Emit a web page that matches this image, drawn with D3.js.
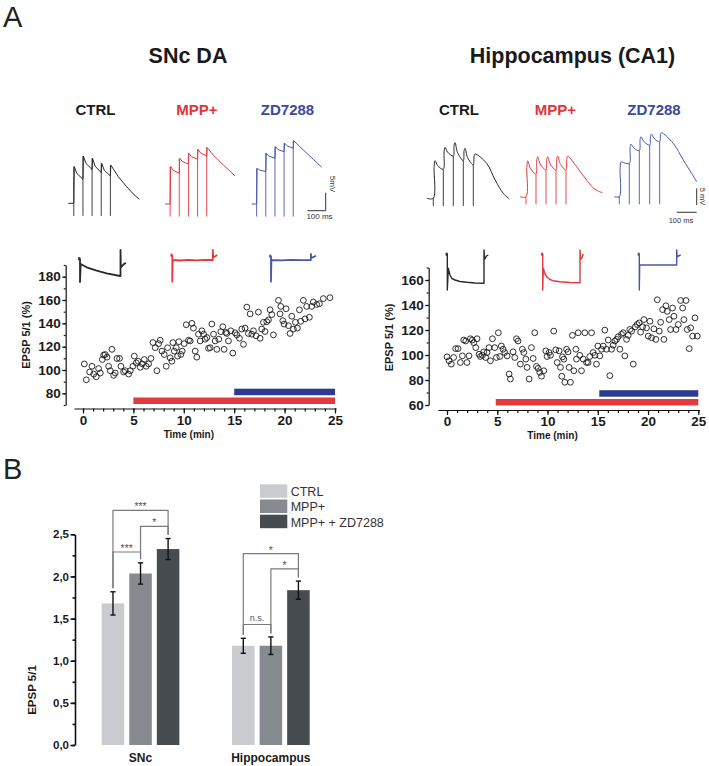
<!DOCTYPE html>
<html><head><meta charset="utf-8">
<script src="https://cdn.jsdelivr.net/npm/d3@7/dist/d3.min.js"></script>
<style>
body{margin:0;background:#fff}
svg{display:block}
text{font-family:"Liberation Sans",Arial,Helvetica,sans-serif}
</style>
</head><body>
<svg id="chart" width="709" height="766"></svg>
<script>
// ---------------- DATA ----------------
const conditions = ["CTRL", "MPP+", "ZD7288"];
const conditionColors = ["#1c1c1c", "#e0353a", "#3b4a9e"];
const traceColors = ["#2a2a2a", "#e4393e", "#4a58aa"];
const timeTicks = [0, 5, 10, 15, 20, 25];
const sncYTicks = [80, 100, 120, 140, 160, 180];
const hipYTicks = [60, 80, 100, 120, 140, 160];
const drugBars = [
  {label: "MPP+", start: 5, end: 25, color: "#e23b3f"},
  {label: "ZD7288", start: 15, end: 25, color: "#2d3a8f"}
];
const hipDrugBars = [
  {label: "MPP+", start: 4.85, end: 25, color: "#e23b3f"},
  {label: "ZD7288", start: 15.15, end: 25, color: "#2d3a8f"}
];

// EPSP 5/1 (%) vs time (min), SNc DA
const sncPoints = [[0.13,105.2],[0.33,91.6],[0.66,98.3],[0.89,103.2],[1.06,96.5],[1.32,94.2],[1.55,101.2],[1.72,97.4],[1.92,109.0],[2.05,112.8],[2.21,113.3],[2.38,111.0],[2.54,103.2],[2.71,99.4],[2.87,117.7],[3.04,95.4],[3.20,97.4],[3.37,109.9],[3.63,109.9],[3.76,103.2],[4.03,98.3],[4.19,99.4],[4.52,96.5],[4.69,99.4],[4.95,103.2],[5.09,111.9],[5.28,106.1],[5.48,107.5],[5.68,102.3],[5.88,105.2],[6.08,109.0],[6.27,103.2],[6.51,105.2],[6.74,109.9],[6.94,123.5],[7.17,119.1],[7.33,99.4],[7.50,122.6],[7.66,125.5],[7.83,116.2],[8.06,113.3],[8.26,103.2],[8.39,119.1],[8.65,110.4],[8.82,107.5],[8.92,123.5],[9.05,116.2],[9.25,119.1],[9.38,111.9],[9.51,124.3],[9.71,113.3],[9.84,116.2],[10.04,122.6],[10.24,138.8],[10.47,125.5],[10.63,124.9],[10.80,140.0],[10.96,135.9],[11.13,116.2],[11.29,111.0],[11.46,130.7],[11.62,124.9],[11.79,133.6],[11.96,130.7],[12.12,126.4],[12.29,127.8],[12.45,118.6],[12.62,119.1],[12.78,139.4],[12.95,130.7],[13.11,124.9],[13.28,117.7],[13.47,126.4],[13.67,132.8],[13.87,137.1],[14.00,117.7],[14.17,132.2],[14.27,131.3],[14.43,124.9],[14.66,133.6],[14.86,114.5],[15.09,131.9],[15.26,130.1],[15.52,127.2],[15.75,135.1],[15.92,122.0],[16.08,135.9],[16.25,153.9],[16.41,131.3],[16.58,148.1],[16.74,130.7],[16.91,133.6],[17.17,129.3],[17.40,149.6],[17.57,127.2],[17.73,135.1],[17.90,140.9],[18.06,133.0],[18.23,141.4],[18.40,142.9],[18.56,151.6],[18.73,147.5],[18.89,130.1],[19.39,159.7],[19.55,148.1],[19.62,154.5],[19.82,142.3],[19.95,139.4],[20.15,152.5],[20.38,138.0],[20.54,131.3],[20.71,146.1],[20.87,135.1],[21.07,140.9],[21.27,135.9],[21.47,151.6],[21.60,141.7],[21.86,159.7],[22.03,143.8],[22.19,154.5],[22.46,145.2],[22.69,154.5],[22.85,158.3],[23.18,156.2],[23.45,156.8],[23.84,161.2],[24.50,162.0]];

// EPSP 5/1 (%) vs time (min), Hippocampus CA1
const hipPoints = [[0,98.5],[0.2,95.4],[0.43,92.7],[0.66,98.0],[0.86,105.1],[1.10,105.1],[1.33,94.0],[1.53,99.3],[1.66,112.0],[1.86,111.2],[1.99,94.0],[2.19,99.3],[2.32,113.0],[2.52,112.0],[2.66,109.9],[2.86,105.9],[2.99,113.0],[3.19,100.6],[3.32,98.8],[3.52,99.8],[3.65,102.5],[3.85,98.0],[3.98,102.0],[4.18,105.9],[4.32,95.4],[4.52,113.0],[4.75,105.9],[4.91,98.0],[5.11,117.8],[5.25,98.8],[5.41,107.2],[5.58,104.6],[5.74,102.0],[5.98,99.3],[6.18,84.8],[6.31,80.8],[6.57,102.5],[6.74,98.0],[6.91,113.0],[7.07,111.2],[7.30,92.7],[7.50,104.6],[7.64,102.0],[7.84,96.7],[7.97,90.1],[8.17,80.8],[8.40,105.9],[8.57,97.2],[8.73,117.8],[8.90,90.9],[9.06,89.3],[9.23,86.1],[9.40,83.0],[9.63,87.4],[9.83,103.3],[9.96,98.8],[10.16,102.0],[10.29,99.8],[10.62,119.1],[10.82,104.1],[10.96,94.0],[11.16,103.3],[11.29,90.1],[11.42,83.0],[11.49,98.5],[11.62,96.7],[11.72,78.2],[11.89,104.6],[12.05,102.5],[12.15,90.1],[12.28,78.2],[12.48,115.7],[12.62,87.4],[12.82,104.6],[12.88,96.7],[13.05,117.8],[13.21,99.8],[13.38,87.4],[13.55,96.7],[13.71,117.8],[13.88,94.0],[14.04,94.0],[14.21,98.8],[14.38,117.8],[14.54,102.0],[14.71,99.8],[14.87,92.7],[15.01,107.2],[15.21,99.3],[15.37,104.6],[15.54,107.2],[15.70,119.9],[15.87,104.6],[16.04,112.0],[16.20,83.5],[16.37,104.6],[16.53,107.8],[16.70,111.2],[16.87,112.5],[17.03,114.6],[17.20,104.6],[17.36,116.5],[17.53,117.8],[17.69,99.3],[17.86,112.5],[18.03,115.7],[18.19,120.4],[18.36,119.1],[18.53,92.7],[18.73,122.5],[18.92,124.4],[19.12,125.7],[19.26,118.3],[19.46,122.5],[19.59,128.3],[19.85,121.7],[20.02,115.1],[20.19,127.0],[20.35,113.8],[20.58,120.9],[20.78,112.5],[20.92,144.2],[21.12,119.1],[21.25,126.2],[21.45,136.3],[21.58,112.5],[21.78,139.4],[21.91,134.9],[22.11,128.3],[22.24,120.4],[22.44,137.6],[22.58,131.0],[22.78,120.4],[23.01,124.4],[23.24,143.6],[23.44,137.6],[23.57,128.3],[23.77,143.6],[23.90,120.4],[24.10,105.1],[24.24,121.7],[24.44,115.1],[24.67,129.7],[24.90,115.1]];

// EPSP trains (ms, mV): stimulus times, peak and trough amplitudes, decay tail
const sncTrains = [
  {stims:[30,80,130,180,230], peaks:[10.2,13.1,12.5,11.1,10.6], troughs:[6.7,9.4,8.5,7.6], tail:[[273,7.4],[319,4.6],[355,2.6],[388,1.1]]},
  {stims:[28,78,128,178,228], peaks:[10.4,12.7,14.1,15.2,15.7], troughs:[8.5,11.1,12.4,13.3], tail:[[264,13.6],[319,10.8],[383,7.8]]},
  {stims:[27,77,127,177,227], peaks:[9.9,14.1,15.9,16.9,17.6], troughs:[9.0,12.7,14.5,15.5], tail:[[282,15.0],[337,12.4],[383,10.2]]}
];
const hipTrains = [
  {stims:[33,83,133,183,233], peaks:[11.3,15.3,16.7,15.0,13.3], troughs:[8.7,12.7,11.3,10.0], tail:[[300,10.5],[342,5.5],[383,1.5],[413,-0.2]]},
  {stims:[30,80,130,180,230], peaks:[10.8,12.0,12.0,12.2,12.2], troughs:[6.8,8.0,8.0,8.0], tail:[[283,9.0],[333,5.0],[375,2.2],[413,1.2]]},
  {stims:[25,75,125,177,227], peaks:[10.5,15.8,18.0,18.8,19.2], troughs:[10.0,13.8,15.5,16.5], tail:[[295,16.0],[345,11.0],[387,7.0],[412,4.5]]}
];

// Hyperpolarising step responses (ms, mV relative to pre-step level)
const sncSteps = [
  [[0,0],[0,-23.5],[17,-5.5],[165,-8.8],[412,-12.2],[659,-14.8],[988,-17.5],[1000,-17.5],[1000,8.5],[1008,-9],[1060,-6.5],[1130,-4.2]],
  [[0,0],[0,-26.7],[10,-5],[200,-5.5],[400,-4.8],[600,-5.3],[800,-4.9],[1000,-5],[1000,5],[1010,-2.5],[1040,-1.7],[1110,0]],
  [[0,0],[0,-25.7],[10,-4],[250,-4.3],[500,-3.8],[750,-4.2],[985,-4],[985,2],[995,-1.5],[1040,-1.3],[1110,0.3]]
];
const hipSteps = [
  [[0,0],[0,-36],[27,-14.3],[72,-21],[126,-24.5],[206,-26],[340,-27.5],[528,-28.3],[742,-29],[984,-29.3],[984,4],[1000,-5],[1019,-4.3],[1051,-2],[1099,-1]],
  [[0,0],[0,-36],[16,-14.3],[62,-20],[115,-23],[196,-25.5],[276,-26.7],[464,-27.8],[732,-28.5],[1000,-28.7],[1000,4],[1015,-5],[1046,-4.3],[1067,-2],[1088,0]],
  [[0,0],[0,-36],[10,-11],[500,-11],[1003,-11],[1003,4],[1015,-3],[1046,-2],[1110,-1]]
];

// Panel B
const barGroups = ["SNc", "Hippocampus"];
const barConditions = ["CTRL", "MPP+", "MPP+ + ZD7288"];
const barColors = ["#c9cbce", "#878b8f", "#474c51"];
const sncMeans = [1.68, 2.035, 2.325];
const sncErrors = [0.138, 0.126, 0.125];
const hipMeans = [1.177, 1.178, 1.837];
const hipErrors = [0.089, 0.104, 0.108];
const barYTicks = [0, 0.5, 1.0, 1.5, 2.0, 2.5];
const comparisons = [
  {group:"SNc", a:0, b:2, level:2.785, label:"***"},
  {group:"SNc", a:1, b:2, level:2.595, label:"*"},
  {group:"SNc", a:0, b:1, level:2.29, label:"***"},
  {group:"Hippocampus", a:0, b:2, level:2.27, label:"*"},
  {group:"Hippocampus", a:1, b:2, level:2.09, label:"*"},
  {group:"Hippocampus", a:0, b:1, level:1.43, label:"n.s."}
];

// ---------------- DRAW ----------------
const svg = d3.select("#chart");
const FONT = '"Liberation Sans",Arial,Helvetica,sans-serif';

// panel letters
svg.append("text").attr("x", 3).attr("y", 27).attr("font-size", 29).attr("fill", "#222").text("A");
svg.append("text").attr("x", 3).attr("y", 479).attr("font-size", 29).attr("fill", "#222").text("B");

// titles
svg.append("text").attr("x", 188).attr("y", 63).attr("text-anchor", "middle")
  .attr("font-size", 21.5).attr("font-weight", "bold").attr("fill", "#1a1a1a").text("SNc DA");
svg.append("text").attr("x", 572.5).attr("y", 63).attr("text-anchor", "middle")
  .attr("font-size", 21.5).attr("font-weight", "bold").attr("fill", "#1a1a1a").text("Hippocampus (CA1)");

// condition labels
const labelX = [[95.5, 197, 287.5], [459, 555.5, 654]];
labelX.forEach(xs => {
  conditions.forEach((c, i) => {
    svg.append("text").attr("x", xs[i]).attr("y", 115).attr("text-anchor", "middle")
      .attr("font-size", 15).attr("font-weight", "bold").attr("fill", conditionColors[i]).text(c);
  });
});

// ---- EPSP trains ----
function trainPoints(tr, rise) {
  const pts = [[0, 0]];
  tr.stims.forEach((s, i) => {
    const pre = i === 0 ? 0 : tr.troughs[i - 1];
    pts.push([s, pre]);
    const p = tr.peaks[i];
    if (rise > 4) pts.push([s + rise * 0.45, pre + (p - pre) * 0.82]);
    pts.push([s + rise, p]);
    if (i < tr.stims.length - 1) {
      const n = tr.stims[i + 1], q = tr.troughs[i];
      pts.push([s + rise + (n - s - rise) * 0.3, q + (p - q) * 0.45]);
    } else {
      tr.tail.forEach(d => pts.push(d));
    }
  });
  return pts;
}

function drawTrains(trains, origins, pxPerMs, pxPerMv, artLow, rise, curve) {
  trains.forEach((tr, i) => {
    const [x0, y0] = origins[i];
    const tx = d3.scaleLinear().domain([0, 100]).range([x0, x0 + 100 * pxPerMs]);
    const ty = d3.scaleLinear().domain([0, 5]).range([y0, y0 - 5 * pxPerMv]);
    const line = d3.line().x(d => tx(d[0])).y(d => ty(d[1])).curve(curve);
    // stimulus artefacts
    tr.stims.forEach((s, k) => {
      const top = rise > 4 ? (k === 0 ? 0 : tr.troughs[k - 1]) : tr.peaks[k];
      svg.append("line").attr("x1", tx(s)).attr("x2", tx(s)).attr("y1", ty(artLow)).attr("y2", ty(top))
        .attr("stroke", traceColors[i]).attr("stroke-width", 1).attr("stroke-opacity", 0.9);
    });
    svg.append("path").attr("d", line(trainPoints(tr, rise)))
      .attr("fill", "none").attr("stroke", traceColors[i]).attr("stroke-width", 1)
      .attr("stroke-linejoin", "round");
  });
}
drawTrains(sncTrains, [[68.3, 203.3], [165, 204], [251.7, 204]], 0.183, 3.6, -3.5, 2.5, d3.curveLinear);
drawTrains(hipTrains, [[426.7, 198.3], [520, 196.7], [614.3, 196.7]], 0.2, 3.33, -2.3, 9, d3.curveCatmullRom.alpha(0.5));

// scale bars
function scaleBar(x, y, pxPer100ms, pxPer5mV, vGap, tx, ty, vx, vy, fs, vLabel) {
  const g = svg.append("g").attr("stroke", "#333").attr("stroke-width", 1);
  g.append("line").attr("x1", x).attr("x2", x).attr("y1", y - vGap).attr("y2", y - vGap - pxPer5mV);
  g.append("line").attr("x1", x - pxPer100ms).attr("x2", x).attr("y1", y).attr("y2", y);
  svg.append("text").attr("x", tx).attr("y", ty).attr("text-anchor", "middle")
    .attr("font-size", fs).attr("fill", "#333").text("100 ms");
  svg.append("text").attr("transform", `translate(${vx},${vy}) rotate(90)`).attr("text-anchor", "middle")
    .attr("font-size", fs).attr("fill", "#333").text(vLabel);
}
scaleBar(325.7, 210.7, 18.3, 18, 0, 319.5, 219, 330, 184, 8, "5mV");
scaleBar(696.7, 212.3, 20, 16.7, 7.3, 681, 223, 700, 196.5, 7.5, "5 mV");

// ---- step responses ----
function drawSteps(steps, origins, pxPer1000ms, sw) {
  steps.forEach((pts, i) => {
    const [x0, y0] = origins[i];
    const sx = d3.scaleLinear().domain([0, 1000]).range([x0, x0 + pxPer1000ms]);
    const sy = d3.scaleLinear().domain([0, -10]).range([y0, y0 + 10]);
    const line = d3.line().x(d => sx(d[0])).y(d => sy(d[1]));
    svg.append("path").attr("d", line(pts)).attr("fill", "none")
      .attr("stroke", traceColors[i]).attr("stroke-width", sw).attr("stroke-linejoin", "round");
    svg.append("rect").attr("x", sx(-45)).attr("y", sy(1.3)).attr("width", 2.2).attr("height", 3)
      .attr("fill", traceColors[i]);
  });
}
drawSteps(sncSteps, [[80, 258.5], [172.3, 255], [271, 256]], 40.5, 1.8);
drawSteps(hipSteps, [[447.3, 254], [542.7, 254], [639.3, 254]], 37.3, 1.4);

// ---- scatter panels ----
function scatterPanel(o) {
  const x = d3.scaleLinear().domain([0, 25]).range(o.xr);
  const y = d3.scaleLinear().domain(o.yd).range(o.yr);
  const xAxisScale = d3.scaleLinear().domain([-0.9, 25.1]).range([x(-0.9), x(25.1)]);
  const fs = 13.5;
  // y axis
  const gy = svg.append("g").attr("transform", `translate(${o.yAxisX},0)`);
  gy.call(d3.axisLeft(y).tickValues(d3.range(o.yd[0], o.yd[1] + 0.1, 10)).tickSize(2).tickSizeOuter(0).tickFormat(""));
  gy.append("g").call(d3.axisLeft(y).tickValues(o.yTicks).tickSize(3.5).tickPadding(1.5))
    .call(g => g.select(".domain").remove());
  gy.selectAll("path,line").attr("stroke", "#111").attr("stroke-width", 1.2);
  gy.selectAll("text").attr("font-size", fs).attr("font-weight", "bold").attr("fill", "#1a1a1a").attr("font-family", FONT);

  // x axis
  const gx = svg.append("g").attr("transform", `translate(0,${o.xAxisY})`);
  gx.call(d3.axisBottom(xAxisScale).tickValues(d3.range(0, 26, 1)).tickSize(3).tickSizeOuter(0).tickFormat(""));
  gx.append("g").call(d3.axisBottom(xAxisScale).tickValues(timeTicks).tickSize(5).tickPadding(1.5))
    .call(g => g.select(".domain").remove());
  gx.selectAll("path,line").attr("stroke", "#111").attr("stroke-width", 1.2);
  gx.selectAll("text").attr("font-size", fs).attr("font-weight", "bold").attr("fill", "#1a1a1a").attr("font-family", FONT);

  svg.append("text").attr("x", x(10.5)).attr("y", o.xAxisY + 29).attr("text-anchor", "middle")
    .attr("font-size", 10).attr("font-weight", "bold").attr("fill", "#1a1a1a").text("Time (min)");
  svg.append("text").attr("transform", `translate(${o.yLabelX},${o.yLabelY}) rotate(-90)`)
    .attr("text-anchor", "middle").attr("font-size", 11).attr("font-weight", "bold")
    .attr("fill", "#1a1a1a").text("EPSP 5/1 (%)");

  // drug bars
  o.bars.forEach((b, i) => {
    const top = o.barBase - 7 - i * 8.8;
    svg.append("rect").attr("x", x(b.start)).attr("width", x(b.end) - x(b.start))
      .attr("y", top).attr("height", 6.5).attr("fill", b.color);
  });

  // points
  svg.append("g").selectAll("circle").data(o.points).join("circle")
    .attr("cx", d => x(d[0])).attr("cy", d => y(d[1])).attr("r", 2.9)
    .attr("fill", "none").attr("stroke", "#1a1a1a").attr("stroke-width", 0.9);
}

scatterPanel({xr: [83, 335], yd: [70, 190], yr: [405, 265], yTicks: sncYTicks, yAxisX: 65.7, xAxisY: 408.5,
  yLabelX: 30, yLabelY: 335, bars: drugBars, barBase: 404.5, points: sncPoints});
scatterPanel({xr: [447, 698.3], yd: [60, 170], yr: [405, 267.5], yTicks: hipYTicks, yAxisX: 428.7, xAxisY: 410,
  yLabelX: 393.3, yLabelY: 337.5, bars: hipDrugBars, barBase: 406, points: hipPoints});

// ---- Panel B: bar chart ----
const by = d3.scaleLinear().domain([0, 2.5]).range([745, 534.3]);
const bx0 = d3.scaleBand().domain(barGroups).range([101.7, 309.7]).paddingInner(0.404).paddingOuter(0);
const bx1 = d3.scaleBand().domain(barConditions).range([0, bx0.bandwidth()]).paddingInner(0.182).paddingOuter(0);
const groupData = {SNc: {means: sncMeans, errs: sncErrors}, Hippocampus: {means: hipMeans, errs: hipErrors}};

// axis
const gby = svg.append("g").attr("transform", "translate(75,0)");
gby.call(d3.axisLeft(by).tickValues(d3.range(0, 2.51, 0.25)).tickSize(2.5).tickSizeOuter(0).tickFormat(""));
gby.append("g").call(d3.axisLeft(by).tickValues(barYTicks).tickSize(4.5).tickPadding(1.5)
  .tickFormat(d => d3.format(".1f")(d).replace(".", ","))).call(g => g.select(".domain").remove());
gby.selectAll("path,line").attr("stroke", "#111").attr("stroke-width", 1.6);
gby.selectAll("text").attr("font-size", 11.5).attr("font-weight", "bold").attr("fill", "#1a1a1a").attr("font-family", FONT);
svg.append("text").attr("transform", "translate(36,690) rotate(-90)").attr("text-anchor", "middle")
  .attr("font-size", 11.5).attr("font-weight", "bold").attr("fill", "#1a1a1a").text("EPSP 5/1");

barGroups.forEach(gName => {
  const gd = groupData[gName];
  const g = svg.append("g").attr("transform", `translate(${bx0(gName)},0)`);
  barConditions.forEach((c, i) => {
    const m = gd.means[i], e = gd.errs[i];
    const cx = bx1(c) + bx1.bandwidth() / 2;
    g.append("rect").attr("x", bx1(c)).attr("width", bx1.bandwidth())
      .attr("y", by(m)).attr("height", by(0) - by(m)).attr("fill", barColors[i]);
    const eg = g.append("g").attr("stroke", "#111").attr("stroke-width", 1.4);
    eg.append("line").attr("x1", cx).attr("x2", cx).attr("y1", by(m - e)).attr("y2", by(m + e));
    eg.append("line").attr("x1", cx - 2.6).attr("x2", cx + 2.6).attr("y1", by(m - e)).attr("y2", by(m - e));
    eg.append("line").attr("x1", cx - 2.6).attr("x2", cx + 2.6).attr("y1", by(m + e)).attr("y2", by(m + e));
  });
  svg.append("text").attr("x", bx0(gName) + bx0.bandwidth() / 2).attr("y", 762).attr("text-anchor", "middle")
    .attr("font-size", 12).attr("font-weight", "bold").attr("fill", "#1a1a1a").text(gName);
});

// significance brackets
comparisons.forEach(cmp => {
  const gd = groupData[cmp.group];
  const xa = bx0(cmp.group) + bx1(barConditions[cmp.a]) + bx1.bandwidth() / 2;
  const xb = bx0(cmp.group) + bx1(barConditions[cmp.b]) + bx1.bandwidth() / 2;
  const ly = by(cmp.level);
  const ya = by(gd.means[cmp.a] + gd.errs[cmp.a]) - 3.5;
  const yb = by(gd.means[cmp.b] + gd.errs[cmp.b]) - 3.5;
  svg.append("path").attr("d", `M${xa},${ya}V${ly}H${xb}V${yb}`)
    .attr("fill", "none").attr("stroke", "#7a7a7a").attr("stroke-width", 1.2);
  const ns = cmp.label === "n.s.";
  svg.append("text").attr("x", (xa + xb) / 2).attr("y", ly - (ns ? 3 : 0)).attr("text-anchor", "middle")
    .attr("font-size", ns ? 9 : 10.5).attr("fill", "#555").text(cmp.label);
});

// legend
const lg = svg.append("g");
barConditions.forEach((c, i) => {
  const yy = 484.3 + i * 15.2;
  lg.append("rect").attr("x", 260).attr("y", yy).attr("width", 27.3).attr("height", 13.5).attr("fill", barColors[i]);
  lg.append("text").attr("x", 290.7).attr("y", yy + 11.8).attr("font-size", 12.5).attr("fill", "#333").text(c);
});
</script>
</body></html>
